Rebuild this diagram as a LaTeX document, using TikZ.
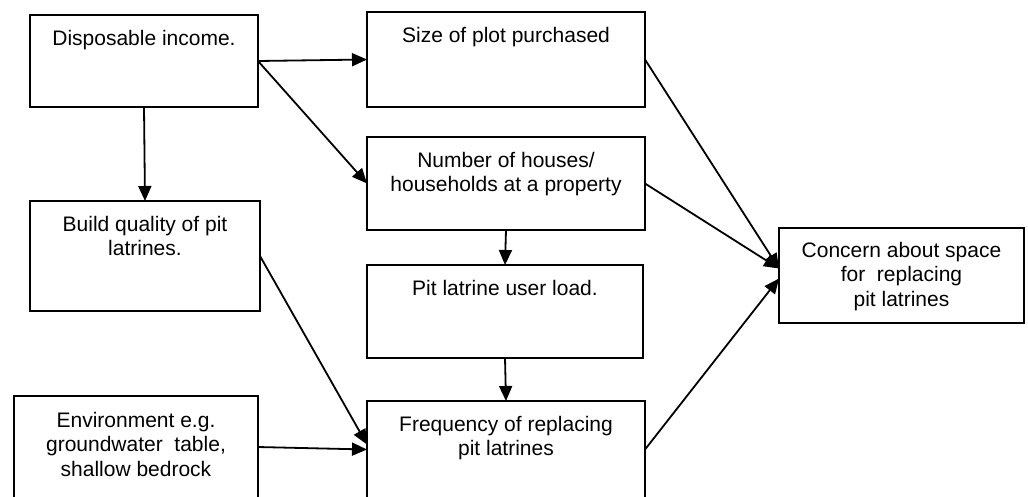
\documentclass[tikz,border=0pt]{standalone}
\usepackage{fontspec}
\setmainfont{Liberation Sans}
\usetikzlibrary{arrows.meta,calc}
\begin{document}
\begin{tikzpicture}[x=1pt,y=-1pt,
  box/.style={draw, line width=2pt, inner sep=0pt, outer sep=0pt},
  lbl/.style={anchor=north, inner sep=0pt, align=center, font=\fontsize{21}{24.5}\selectfont},
  arr/.style={line width=1.8pt, -{Triangle[length=15pt,width=13pt]}}]
\useasboundingbox (0,0) rectangle (1028,496);
\clip (0,0) rectangle (1028,496);
% boxes
\node[box, minimum width=228pt, minimum height=92pt] (A) at (144,61) {};
\node[box, minimum width=278pt, minimum height=95pt] (B) at (506,59.5) {};
\node[box, minimum width=278pt, minimum height=93pt] (C) at (506,183.5) {};
\node[box, minimum width=230pt, minimum height=110pt] (D) at (145,256) {};
\node[box, minimum width=276pt, minimum height=93pt] (E) at (505,311.5) {};
\node[box, minimum width=244pt, minimum height=102pt] (F) at (136,447) {};
\node[box, minimum width=278pt, minimum height=97pt] (G) at (506,449.5) {};
\node[box, minimum width=245pt, minimum height=95pt] (H) at (901.5,275.5) {};
% labels
\node[lbl] (At) at ([yshift=-15pt]A.north) {Disposable income.};
\node[lbl] (Bt) at ([yshift=-15pt]B.north) {Size of plot purchased};
\node[lbl] (Ct) at ([yshift=-15pt]C.north) {Number of houses/\\households at a property};
\node[lbl] (Dt) at ([yshift=-15pt]D.north) {Build quality of pit\\latrines.};
\node[lbl] (Et) at ([yshift=-15pt]E.north) {Pit latrine user load.};
\node[lbl] (Ft) at ([yshift=-16pt]F.north) {Environment e.g.\\groundwater~ table,\\shallow bedrock};
\node[lbl] (Gt) at ([yshift=-15pt]G.north) {Frequency of replacing\\pit latrines};
\node[lbl] (Ht) at ([yshift=-14pt]H.north) {Concern about space\\for~ replacing\\pit latrines};
% connectors
\draw[arr] (A.east) -- (B.west);
\draw[arr] (A.east) -- (C.west);
\draw[arr] (A.south) -- (D.north);
\draw[arr] (B.east) -- ([yshift=7pt]H.west);
\draw[arr] (C.east) -- ([yshift=7pt]H.west);
\draw[arr] (C.south) -- (E.north);
\draw[arr] (E.south) -- (G.north);
\draw[arr] (D.east) -- ([yshift=5pt]G.west);
\draw[arr] (F.east) -- (G.west);
\draw[arr] (G.east) -- ([yshift=-3pt]H.west);
\end{tikzpicture}
\end{document}
